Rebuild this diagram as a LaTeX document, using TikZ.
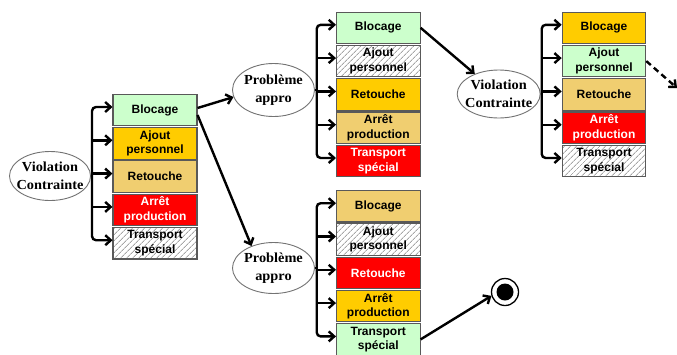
\documentclass[tikz,border=0pt]{standalone}
\usepackage{fontspec}
\setmainfont{Liberation Sans}
\newfontfamily\ellfont[FakeStretch=1.04]{Liberation Serif}
\usetikzlibrary{arrows.meta,patterns.meta,shapes.geometric}
\definecolor{cgreen}{RGB}{204,255,204}
\definecolor{cyellow}{RGB}{255,204,0}
\definecolor{ctan}{RGB}{240,206,112}
\definecolor{cred}{RGB}{255,0,0}
\begin{document}
\begin{tikzpicture}[x=1pt,y=-1pt,
  box/.style={draw=black!65,line width=1.1pt,minimum width=83.5pt,minimum height=31.5pt,inner sep=0pt,align=center,
    font=\fontsize{12}{14.5}\selectfont\bfseries},
  gbox/.style={box,fill=cgreen},
  ybox/.style={box,fill=cyellow},
  tbox/.style={box,fill=ctan},
  rbox/.style={box,fill=cred,text=white},
  hbox/.style={box,pattern={Lines[angle=45,distance=4pt,line width=0.9pt]},pattern color=black!35},
  ell/.style={ellipse,draw=black!55,line width=0.9pt,fill=white,inner sep=0pt},
  ellt/.style={inner sep=0pt,align=center,font=\ellfont\fontsize{13.8}{18}\selectfont\bfseries},
  tipb/.tip={Straight Barb[length=5.5pt,width=10pt]},
  bus/.style={line width=2.4pt},
  arr/.style={line width=2.4pt,-tipb},
]
\fill[white] (0,0) rectangle (677,354);
\useasboundingbox (0,0) rectangle (677,354);

% ---------- left group ----------
\node[ell,minimum width=81pt,minimum height=49pt,label={[ellt]center:Violation\\Contrainte}] (L-e) at (50,176) {};
\node[gbox,minimum width=84pt] (L1) at (155,110.0) {Blocage};
\node[ybox,minimum width=84pt] (L2) at (155,143.3) {Ajout\\personnel};
\node[tbox,minimum width=84pt] (L3) at (155,176.6) {Retouche};
\node[rbox,minimum width=84pt] (L4) at (155,209.9) {Arrêt\\production};
\node[hbox,minimum width=84pt] (L5) at (155,243.2) {Transport\\spécial};
\coordinate (L-bus) at (92,176);

% ---------- top middle group ----------
\node[ell,minimum width=82pt,minimum height=53pt,label={[ellt]center:Problème\\appro}] (T-e) at (273.5,90) {};
\node[gbox] (T1) at (378.3,27.8) {Blocage};
\node[hbox] (T2) at (378.3,61.1) {Ajout\\personnel};
\node[ybox] (T3) at (378.3,94.4) {Retouche};
\node[tbox] (T4) at (378.3,127.7) {Arrêt\\production};
\node[rbox] (T5) at (378.3,161.0) {Transport\\spécial};
\coordinate (T-bus) at (316.7,90);

% ---------- right group ----------
\node[ell,minimum width=83pt,minimum height=48pt,label={[ellt]center:Violation\\Contrainte}] (R-e) at (498.7,94) {};
\node[ybox] (R1) at (604,27.8) {Blocage};
\node[gbox] (R2) at (604,61.1) {Ajout\\personnel};
\node[tbox] (R3) at (604,94.4) {Retouche};
\node[rbox] (R4) at (604,127.7) {Arrêt\\production};
\node[hbox] (R5) at (604,161.0) {Transport\\spécial};
\coordinate (R-bus) at (541.7,94);

% ---------- bottom middle group ----------
\node[ell,minimum width=82pt,minimum height=51pt,label={[ellt]center:Problème\\appro}] (B-e) at (273.5,268) {};
\node[tbox] (B1) at (378.3,206.2) {Blocage};
\node[hbox] (B2) at (378.3,239.5) {Ajout\\personnel};
\node[rbox] (B3) at (378.3,272.8) {Retouche};
\node[ybox] (B4) at (378.3,306.1) {Arrêt\\production};
\node[gbox] (B5) at (378.3,339.4) {Transport\\spécial};
\coordinate (B-bus) at (316.7,268);

% ---------- buses ----------
\foreach \g in {L,T,R,B}{
  \foreach \i in {1,...,5}{
    \coordinate (\g-a\i) at ([yshift=3pt]\g\i.west);
  }
  \draw[bus] (\g-e.east) -- (\g-e.east -| \g-bus);
  \draw[bus,rounded corners=4pt,tipb-tipb] (\g-a1) -- (\g-a1 -| \g-bus) -- (\g-a5 -| \g-bus) -- (\g-a5);
  \foreach \i in {2,3,4}{
    \draw[arr] (\g-a\i -| \g-bus) -- (\g-a\i);
  }
}

% ---------- end state ----------
\node[circle,draw=black,line width=1.3pt,fill=white,minimum size=27pt,inner sep=0pt] (end) at (505,292) {};
\node[circle,fill=black,minimum size=17pt,inner sep=0pt] (end-in) at (end.center) {};

% ---------- links between groups ----------
\coordinate (off) at (677,88);
\draw[arr] ([yshift=2pt]L1.east) -- (T-e.190);
\draw[arr] ([yshift=-5pt]L1.east) -- (B-e.135);
\draw[arr] (T1.east) -- (R-e.140);
\draw[arr] (B5.east) -- (end.196);
\draw[arr,dash pattern=on 6pt off 4pt] (R2.east) -- (off);
\end{tikzpicture}
\end{document}
